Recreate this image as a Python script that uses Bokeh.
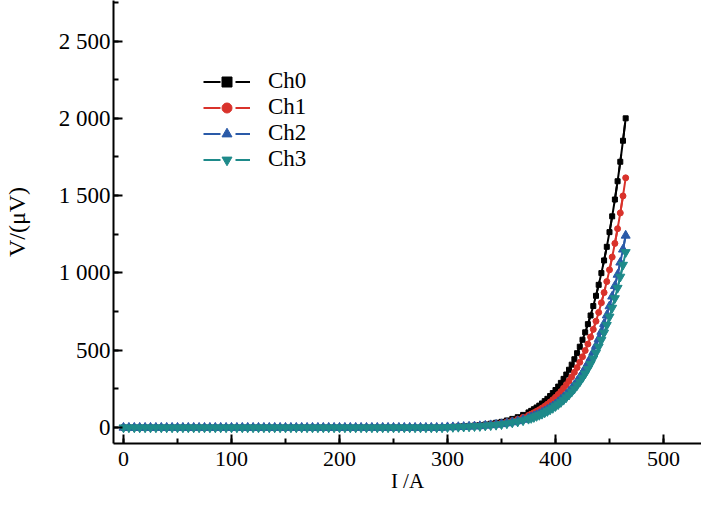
from bokeh.plotting import figure
from bokeh.models import Range1d, SingleIntervalTicker, Legend, LegendItem
from bokeh.embed import file_html
from bokeh.resources import INLINE

# ---------------- data ----------------
SERIES = ["Ch0", "Ch1", "Ch2", "Ch3"]

I_FLAT = [0, 5, 10, 15, 20, 25, 30, 35, 40, 45, 50, 55, 60, 65, 70, 75, 80, 85, 90, 95,
          100, 105, 110, 115, 120, 125, 130, 135, 140, 145, 150, 155, 160, 165, 170, 175,
          180, 185, 190, 195, 200, 205, 210, 215, 220, 225, 230, 235, 240, 245, 250, 255,
          260, 265, 270, 275, 280, 285, 290, 295]
V_FLAT = [0, 0, 0, 0, 0, 0, 0, 0, 0, 0, 0, 0, 0, 0, 0, 0, 0, 0, 0, 0,
          0, 0, 0, 0, 0, 0, 0, 0, 0, 0, 0, 0, 0, 0, 0, 0, 0, 0, 0, 0,
          0, 0, 0, 0, 0, 0, 0, 0, 0, 0, 0, 0, 0, 0, 0, 0, 0, 0, 0, 0]

I_RISE = [300, 305, 310, 315, 320, 325, 330, 335, 340, 345, 350, 355, 360, 365, 370, 375,
          377.5, 380, 382.5, 385, 387.5, 390, 392.5, 395, 397.5, 400, 402.5, 405, 407.5,
          410, 412.5, 415, 417.5, 420, 422.5, 425, 427.5, 430, 432.5, 435, 437.5, 440,
          442.5, 445, 447.5, 450, 452.5, 455, 457.5, 460, 462.5, 465]

CH0_RISE = [4, 5, 7, 9, 11, 13, 16, 20, 25, 31, 37, 46, 56, 67, 82, 98,
            108, 119, 130, 142, 156, 171, 186, 204, 223, 243, 265, 289, 315, 343, 374,
            407, 442, 481, 523, 568, 616, 669, 725, 786, 852, 923, 999, 1081, 1169, 1264,
            1366, 1475, 1593, 1719, 1855, 2000]
CH1_RISE = [3, 4, 6, 7, 9, 11, 13, 16, 20, 25, 30, 37, 45, 54, 66, 79,
            87, 96, 105, 115, 126, 138, 151, 165, 180, 196, 214, 233, 254, 277, 302,
            328, 357, 388, 422, 458, 498, 540, 586, 635, 688, 745, 807, 873, 944, 1020,
            1103, 1191, 1286, 1388, 1498, 1615]
CH2_RISE = [3, 3, 4, 5, 7, 8, 10, 13, 16, 19, 23, 28, 35, 42, 51, 61,
            67, 74, 81, 88, 97, 106, 116, 127, 138, 151, 165, 180, 196, 213, 232,
            253, 275, 299, 325, 353, 383, 415, 450, 488, 529, 573, 620, 671, 726, 785,
            848, 916, 989, 1068, 1152, 1242]
CH3_RISE = [2, 3, 4, 5, 6, 8, 9, 12, 14, 17, 21, 26, 32, 38, 46, 56,
            61, 67, 74, 81, 88, 97, 106, 116, 126, 138, 150, 164, 179, 195, 212,
            231, 251, 273, 296, 322, 349, 379, 411, 446, 483, 523, 566, 613, 663, 717,
            774, 836, 903, 975, 1052, 1134]

Y_TICKS = [0, 500, 1000, 1500, 2000, 2500]
Y_TICK_LABELS = ["0", "500", "1 000", "1 500", "2 000", "2 500"]
X_TITLE = "I /A"
Y_TITLE = "V/(μV)"

# ---------------- styling ----------------
COLORS = ["#000000", "#d9322b", "#2a5aa8", "#1e8a8a"]
MARKERS = ["square", "circle", "triangle", "inverted_triangle"]
SIZES = [5, 6, 9, 9]
FONT = "Liberation Serif"

p = figure(width=701, height=499, output_backend="svg", toolbar_location=None,
           x_range=Range1d(-9.26, 535.2), y_range=Range1d(-103, 2762),
           min_border_left=113, min_border_right=0, min_border_top=0,
           min_border_bottom=56)
p.outline_line_color = None
p.grid.visible = False
p.background_fill_color = "white"
p.border_fill_color = "white"

xs = I_FLAT + I_RISE
series_v = [V_FLAT + CH0_RISE, V_FLAT + CH1_RISE, V_FLAT + CH2_RISE, V_FLAT + CH3_RISE]

items = []
for name, v, c, m, s in zip(SERIES, series_v, COLORS, MARKERS, SIZES):
    # dashed copy drawn under the solid line: invisible in the plot, gives the legend its dashes
    dashed = p.line(xs, v, line_color=c, line_width=2, line_dash="17 15")
    p.line(xs, v, line_color=c, line_width=2)
    sc = p.scatter(xs, v, marker=m, size=s, fill_color=c, line_color=c)
    items.append(LegendItem(label=name, renderers=[dashed, sc]))

legend = Legend(items=items, location=(90, 271), padding=0, margin=0, spacing=0,
                glyph_width=47, glyph_height=25, label_standoff=18,
                border_line_color=None, background_fill_alpha=0,
                label_text_font=FONT, label_text_font_size="23px",
                label_text_color="#000000")
p.add_layout(legend)

for ax in (p.xaxis[0], p.yaxis[0]):
    ax.axis_line_width = 2
    ax.axis_line_color = "#000000"
    ax.major_tick_in = 9
    ax.major_tick_out = 0
    ax.minor_tick_in = 5
    ax.minor_tick_out = 0
    ax.major_tick_line_width = 2
    ax.minor_tick_line_width = 2
    ax.major_tick_line_color = "#000000"
    ax.minor_tick_line_color = "#000000"
    ax.major_label_text_font = FONT
    ax.major_label_text_color = "#000000"
    ax.axis_label_text_font = FONT
    ax.axis_label_text_font_style = "normal"
    ax.axis_label_text_color = "#000000"

p.xaxis[0].ticker = SingleIntervalTicker(interval=100, num_minor_ticks=2)
p.yaxis[0].ticker = SingleIntervalTicker(interval=500, num_minor_ticks=2)
p.xaxis[0].major_label_text_font_size = "22px"
p.yaxis[0].major_label_text_font_size = "23px"
p.xaxis[0].major_label_standoff = 8
p.yaxis[0].major_label_standoff = 3
p.yaxis[0].major_label_overrides = {t: lab for t, lab in zip(Y_TICKS, Y_TICK_LABELS)}

p.xaxis[0].axis_label = X_TITLE
p.xaxis[0].axis_label_text_font_size = "21px"
p.xaxis[0].axis_label_standoff = 0
p.yaxis[0].axis_label = Y_TITLE
p.yaxis[0].axis_label_text_font_size = "24px"
p.yaxis[0].axis_label_standoff = 26

open("out.html", "w").write(file_html(p, INLINE))
